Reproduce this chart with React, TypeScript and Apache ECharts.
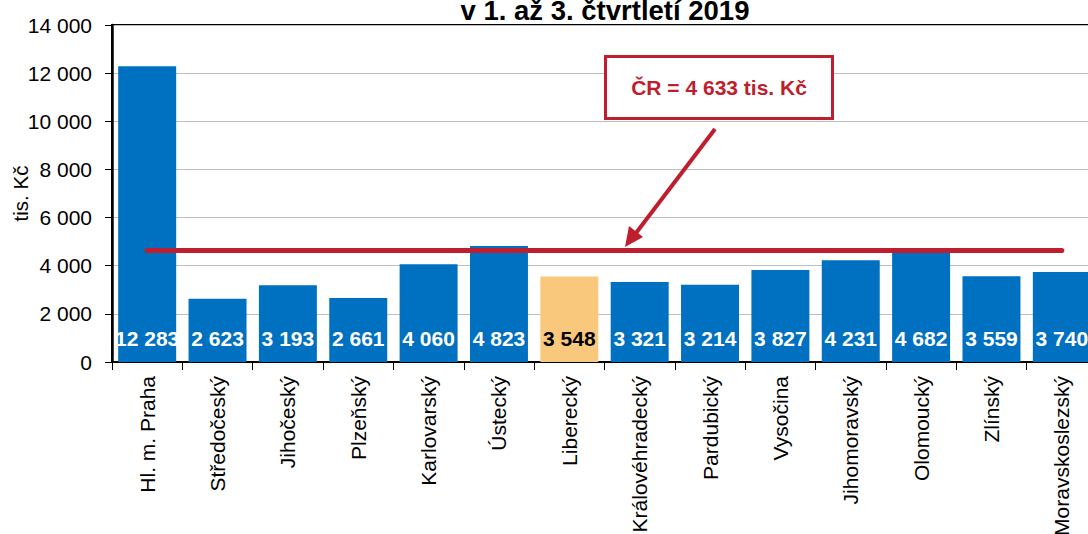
import React, { useEffect, useRef } from "react";
import * as echarts from "echarts";

const categories = [
  "Hl. m. Praha",
  "Středočeský",
  "Jihočeský",
  "Plzeňský",
  "Karlovarský",
  "Ústecký",
  "Liberecký",
  "Královéhradecký",
  "Pardubický",
  "Vysočina",
  "Jihomoravský",
  "Olomoucký",
  "Zlínský",
  "Moravskoslezský",
];
const values = [12283, 2623, 3193, 2661, 4060, 4823, 3548, 3321, 3214, 3827, 4231, 4682, 3559, 3740];
const highlightCategory = "Liberecký";
const nationalAverage = 4633;
const titleText = "v 1. až 3. čtvrtletí 2019";
const yAxisName = "tis. Kč";
const calloutText = "ČR = 4 633 tis. Kč";

const BLUE = "#0070C0";
const ORANGE = "#FAC87D";
const RED = "#BE1E2D";
const FONT = "Liberation Sans, Arial, sans-serif";

const fmt = (v: number) => {
  const s = Math.round(v).toString();
  return s.replace(/\B(?=(\d{3})+(?!\d))/g, " ");
};

export default function App() {
  const ref = useRef<HTMLDivElement>(null);
  useEffect(() => {
    if (!ref.current) return;
    const chart = echarts.init(ref.current, undefined, { renderer: "svg" });
    const barData = values.map((v, i) => {
      const hl = categories[i] === highlightCategory;
      return {
        value: v,
        itemStyle: { color: hl ? ORANGE : BLUE },
        label: { color: hl ? "#000" : "#fff" },
      };
    });
    chart.setOption({
      animation: false,
      textStyle: { fontFamily: FONT },
      title: {
        text: titleText,
        left: 600,
        textAlign: "center",
        top: -9,
        textStyle: { fontSize: 27.5, fontWeight: "bold", color: "#000", fontFamily: FONT },
      },
      grid: {
        left: 112,
        top: 25,
        right: 0,
        bottom: 172,
        outerBoundsMode: "none",
        containLabel: false,
        show: true,
        borderColor: "#000",
        borderWidth: 2,
        backgroundColor: "transparent",
      },
      xAxis: {
        type: "category",
        data: categories,
        axisLine: { lineStyle: { color: "#000", width: 2 } },
        axisTick: { show: true, length: 8, lineStyle: { color: "#000", width: 1 } },
        axisLabel: {
          interval: 0,
          rotate: 90,
          margin: 14,
          fontSize: 21,
          color: "#000",
          fontFamily: FONT,
        },
      },
      yAxis: {
        type: "value",
        min: 0,
        max: 14000,
        interval: 2000,
        name: yAxisName,
        nameLocation: "middle",
        nameGap: 81,
        nameRotate: 90,
        nameMoveOverlap: false,
        nameTextStyle: { fontSize: 20.5, color: "#000", fontFamily: FONT },
        axisLine: { show: true, lineStyle: { color: "#000", width: 2.5 } },
        axisTick: { show: true, length: 7, lineStyle: { color: "#000", width: 1 } },
        axisLabel: {
          margin: 20,
          fontSize: 21,
          color: "#000",
          fontFamily: FONT,
          formatter: (v: number) => fmt(v),
        },
        splitLine: { show: true, lineStyle: { color: "#BFBFBF", width: 1 } },
      },
      series: [
        {
          type: "bar",
          data: barData,
          barCategoryGap: "17.6%",
          z: 2,
          label: {
            show: true,
            position: "insideBottom",
            distance: 13,
            fontSize: 21,
            fontWeight: "bold",
            fontFamily: FONT,
            formatter: (p: any) => fmt(p.value),
          },
        },
        {
          type: "line",
          data: categories.map(() => nationalAverage),
          symbol: "none",
          z: 5,
          lineStyle: { color: RED, width: 5, cap: "round" },
          silent: true,
        },
      ],
      graphic: [
        {
          type: "rect",
          z: 100,
          shape: { x: 605.5, y: 56.5, width: 227, height: 62 },
          style: { fill: "#fff", stroke: RED, lineWidth: 3 },
        },
        {
          type: "text",
          z: 101,
          x: 719,
          y: 87,
          style: {
            text: calloutText,
            fill: RED,
            font: `bold 21px ${FONT}`,
            textAlign: "center",
            textVerticalAlign: "middle",
          },
        },
        {
          type: "line",
          z: 100,
          shape: { x1: 715, y1: 129, x2: 636, y2: 233 },
          style: { stroke: RED, lineWidth: 4 },
        },
        {
          type: "polygon",
          z: 100,
          shape: { points: [[625, 247], [629, 226], [643, 237]] },
          style: { fill: RED },
        },
      ],
    });
    return () => chart.dispose();
  }, []);
  return (
    <div style={{ position: "fixed", left: 0, top: 0, width: 1088, height: 534, overflow: "hidden", background: "#fff" }}>
      <div ref={ref} style={{ width: 1097, height: 534 }} />
    </div>
  );
}
